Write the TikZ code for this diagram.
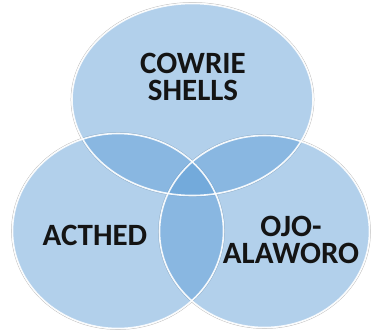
\documentclass[tikz,border=0pt]{standalone}
\usepackage{fontspec}
\setmainfont{Carlito}
\definecolor{accent}{RGB}{91,155,213}
\definecolor{txt}{RGB}{20,20,20}
\tikzset{
  venn/.style={fill=accent, fill opacity=0.47, draw=none},
  rim/.style={draw=white, line width=1.6bp, draw opacity=0.9},
  shadow/.style={draw=black!25, line width=0.6bp},
  lbl/.style={font=\fontsize{31bp}{27bp}\selectfont\bfseries, text=txt, align=center, inner sep=0pt}
}
\begin{document}
\begin{tikzpicture}[x=1bp,y=-1bp]
\useasboundingbox (0,0) rectangle (371,331);
% faint shadows
\draw[shadow] (192.5,99.5) ellipse [x radius=121.5, y radius=97];
\draw[shadow] (118,231) ellipse [x radius=106.5, y radius=98.5];
\draw[shadow] (264.5,231.5) ellipse [x radius=106, y radius=97];
% fills
\fill[venn] (192.5,99.5) ellipse [x radius=120.5, y radius=96];
\fill[venn] (118,231) ellipse [x radius=105.5, y radius=97.5];
\fill[venn] (264.5,231.5) ellipse [x radius=105, y radius=96];
% outlines
\draw[rim] (192.5,99.5) ellipse [x radius=120.5, y radius=96];
\draw[rim] (118,231) ellipse [x radius=105.5, y radius=97.5];
\draw[rim] (264.5,231.5) ellipse [x radius=105, y radius=96];
% labels
\node[lbl, anchor=base] (cowrie) at (193,100) {COWRIE\\SHELLS};
\node[lbl, anchor=base] (acthed) at (95,245) {ACTHED};
\node[lbl, anchor=base] (ojo) at (291,263) {OJO-\\ALAWORO};
\end{tikzpicture}
\end{document}
